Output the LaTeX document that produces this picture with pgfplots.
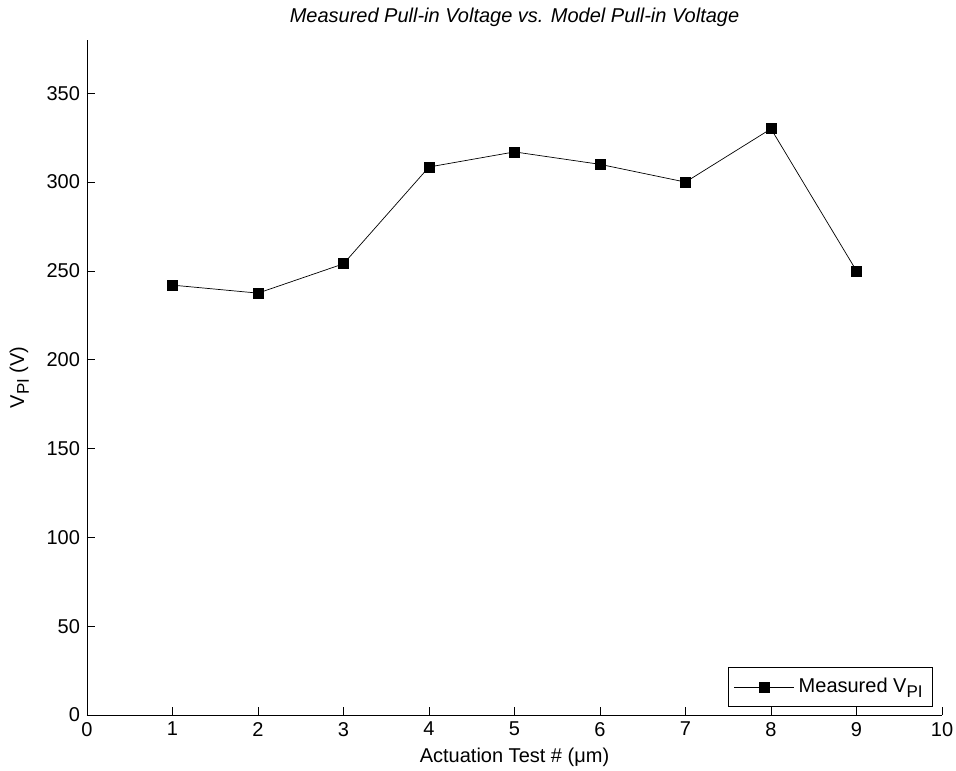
\documentclass[border=0pt]{standalone}
\usepackage{pgfplots}
\pgfplotsset{compat=1.18}
\usepackage{fontspec}
\setmainfont{Liberation Sans}
\newcommand{\PI}{\raisebox{-0.45ex}{\fontsize{8.5}{9}\selectfont PI}}
\begin{document}
\begin{tikzpicture}
\begin{axis}[
  scale only axis,
  width=427.5pt, height=337.5pt,
  xmin=0, xmax=10, ymin=0, ymax=380,
  xtick={0,1,...,10}, ytick={0,50,...,350},
  axis lines*=left,
  axis line style={black, line width=0.4pt},
  tick style={black, line width=0.4pt},
  tick align=inside,
  major tick length=4pt,
  font=\fontsize{10}{12}\selectfont,
  /pgf/number format/assume math mode=true,
  title={\itshape Measured Pull-in Voltage vs. Model Pull-in Voltage},
  every axis title shift=0pt,
  every axis title/.style={at={(0.5,1)}, anchor=base, yshift=8.5pt},
  xlabel={Actuation Test \# (μm)},
  ylabel={V\PI\ (V)},
  xlabel style={yshift=1pt},
  ylabel style={yshift=2pt},
  legend style={at={(1,0)}, anchor=south east, xshift=-4.5pt, yshift=4pt,
    draw=black, line width=0.4pt, inner xsep=3pt, inner ysep=3.5pt},
  legend cell align=left,
  legend image code/.code={
    \draw[mark repeat=2, mark phase=2] plot coordinates {(0pt,0pt) (15pt,0pt) (30pt,0pt)};
  },
  clip=false,
]
\coordinate (sw) at (rel axis cs:0,0);
\coordinate (ne) at (rel axis cs:1,1);
\addplot[black, line width=0.35pt, mark=square*, mark size=2.5pt, mark options={solid, fill=black}]
  coordinates {(1,242) (2,237.5) (3,254) (4,308.5) (5,317) (6,310) (7,300) (8,330) (9,250)};
\addlegendentry{Measured V\PI}
\end{axis}
\pgfresetboundingbox
\path ([shift={(-43.5pt,-27.5pt)}]sw) rectangle ([shift={(7pt,20pt)}]ne);
\end{tikzpicture}
\end{document}
